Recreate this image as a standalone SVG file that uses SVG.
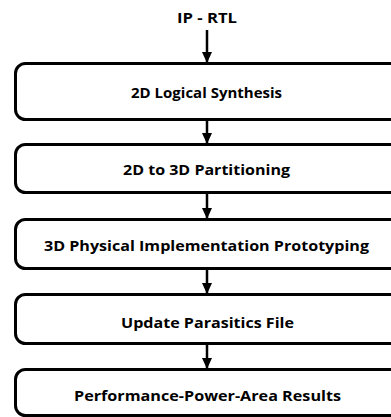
<svg xmlns="http://www.w3.org/2000/svg" width="391" height="417" viewBox="0 0 391 417">
<style>
.box{fill:#fff;stroke:#000;stroke-width:3}
.t{font-family:"Open Sans","Liberation Sans",sans-serif;font-weight:bold;font-size:14px;fill:#000;text-anchor:middle}
.c{stroke:#000;stroke-width:2.5;fill:none}
</style>
<defs>
<marker id="ah" markerWidth="11" markerHeight="11" viewBox="0 0 11 11" refX="10" refY="5.5" orient="auto" markerUnits="userSpaceOnUse">
<path d="M0,0.5 L11,5.5 L0,10.5 Z" fill="#000"/>
</marker>
</defs>
<rect width="391" height="417" fill="#fff"/>
<g id="connectors">
<line class="c" x1="207" y1="30" x2="207" y2="62" marker-end="url(#ah)"/>
<line class="c" x1="207" y1="120" x2="207" y2="143" marker-end="url(#ah)"/>
<line class="c" x1="207" y1="193" x2="207" y2="218" marker-end="url(#ah)"/>
<line class="c" x1="207" y1="269" x2="207" y2="293" marker-end="url(#ah)"/>
<line class="c" x1="207" y1="344" x2="207" y2="368" marker-end="url(#ah)"/>
</g>
<g id="input"><text class="t" x="207" y="23" textLength="60" lengthAdjust="spacingAndGlyphs">IP - RTL</text></g>
<g id="n1"><rect class="box" x="15.5" y="63.5" width="384" height="56" rx="10"/><text class="t" x="206.5" y="97.5" textLength="151" lengthAdjust="spacingAndGlyphs">2D Logical Synthesis</text></g>
<g id="n2"><rect class="box" x="15.5" y="144.5" width="384" height="48" rx="10"/><text class="t" x="206.5" y="174.5" textLength="167" lengthAdjust="spacingAndGlyphs">2D to 3D Partitioning</text></g>
<g id="n3"><rect class="box" x="15.5" y="219.5" width="384" height="49" rx="10"/><text class="t" x="206.5" y="251" textLength="325" lengthAdjust="spacingAndGlyphs">3D Physical Implementation Prototyping</text></g>
<g id="n4"><rect class="box" x="15.5" y="294.5" width="384" height="49" rx="10"/><text class="t" x="207.5" y="327.5" textLength="173" lengthAdjust="spacingAndGlyphs">Update Parasitics File</text></g>
<g id="n5"><rect class="box" x="15.5" y="369.5" width="384" height="46" rx="10"/><text class="t" x="207.5" y="400.5" textLength="267" lengthAdjust="spacingAndGlyphs">Performance-Power-Area Results</text></g>
</svg>
